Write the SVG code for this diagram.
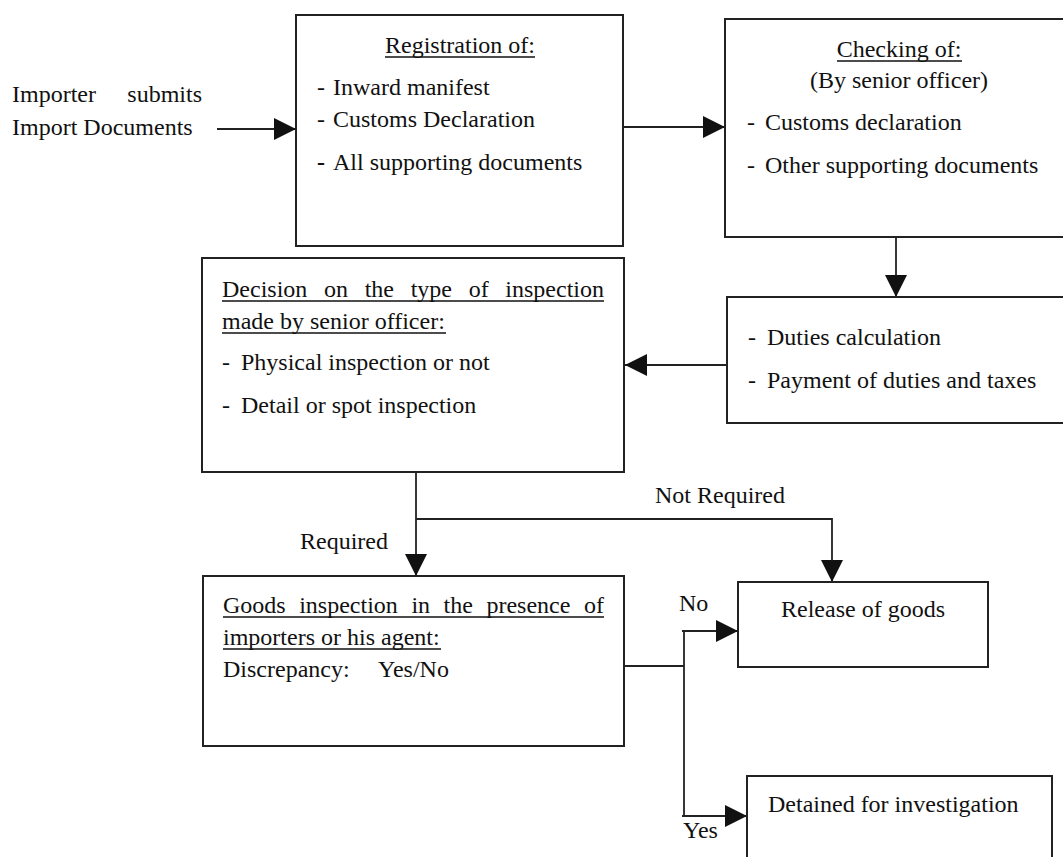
<svg xmlns="http://www.w3.org/2000/svg" width="1063" height="857" viewBox="0 0 1063 857">
<style>
text { font-family: "Liberation Serif", "Times New Roman", serif; font-size: 24px; fill: #111; }
.box { fill: #fff; stroke: #222; stroke-width: 2; }
.ln { fill: none; stroke: #222; stroke-width: 1.8; }
.ul { stroke: #111; stroke-width: 1.5; }
.c { text-anchor: middle; }
.e { text-anchor: end; }
</style>
<defs>
<marker id="arr" markerUnits="userSpaceOnUse" markerWidth="22" markerHeight="22" viewBox="0 0 20 20" refX="20" refY="10" orient="auto">
<path d="M0,0 L20,10 L0,20 Z" fill="#111"/>
</marker>
</defs>
<rect width="1063" height="857" fill="#fff"/>

<g id="importer">
<text x="12" y="102">Importer</text>
<text x="202" y="102" class="e">submits</text>
<text x="12" y="135">Import Documents</text>
</g>

<g id="registration">
<rect class="box" x="296" y="15" width="327" height="231"/>
<text x="460" y="53" class="c">Registration of:</text>
<line class="ul" x1="385" y1="57" x2="535" y2="57"/>
<text x="317" y="95">-</text><text x="333" y="95">Inward manifest</text>
<text x="317" y="127">-</text><text x="333" y="127">Customs Declaration</text>
<text x="317" y="170" font-weight="bold">-</text><text x="333" y="170">All supporting documents</text>
</g>

<g id="checking">
<rect class="box" x="725" y="19" width="345" height="218"/>
<text x="899" y="57" class="c">Checking of:</text>
<line class="ul" x1="837" y1="61" x2="962" y2="61"/>
<text x="899" y="88" class="c">(By senior officer)</text>
<text x="747" y="130">-</text><text x="765" y="130">Customs declaration</text>
<text x="747" y="173">-</text><text x="765" y="173">Other supporting documents</text>
</g>

<g id="duties">
<rect class="box" x="727" y="297" width="345" height="126"/>
<text x="748" y="345">-</text><text x="767" y="345">Duties calculation</text>
<text x="748" y="388">-</text><text x="767" y="388">Payment of duties and taxes</text>
</g>

<g id="decision">
<rect class="box" x="202" y="258" width="422" height="214"/>
<text x="222" y="297">Decision</text>
<text x="324" y="297">on</text>
<text x="364.7" y="297">the</text>
<text x="410.7" y="297">type</text>
<text x="468.7" y="297">of</text>
<text x="604" y="297" class="e">inspection</text>
<line class="ul" x1="222" y1="301" x2="604" y2="301"/>
<text x="222" y="329">made by senior officer:</text>
<line class="ul" x1="222" y1="333" x2="446" y2="333"/>
<text x="222" y="370">-</text><text x="241" y="370">Physical inspection or not</text>
<text x="222" y="413">-</text><text x="241" y="413">Detail or spot inspection</text>
</g>

<g id="goods">
<rect class="box" x="203" y="576" width="421" height="170"/>
<text x="223" y="613">Goods</text>
<text x="299.2" y="613">inspection</text>
<text x="411.4" y="613">in</text>
<text x="443.6" y="613">the</text>
<text x="486.4" y="613">presence</text>
<text x="604" y="613" class="e">of</text>
<line class="ul" x1="223" y1="617" x2="604" y2="617"/>
<text x="223" y="645">importers or his agent:</text>
<line class="ul" x1="223" y1="649" x2="441" y2="649"/>
<text x="223" y="677">Discrepancy:</text>
<text x="378" y="677">Yes/No</text>
</g>

<g id="release">
<rect class="box" x="738" y="582" width="250" height="85"/>
<text x="863" y="617" class="c">Release of goods</text>
</g>

<g id="detained">
<rect class="box" x="747" y="776" width="305" height="90"/>
<text x="768" y="812">Detained for investigation</text>
</g>

<g id="connectors">
<line class="ln" x1="217" y1="129" x2="296" y2="129" marker-end="url(#arr)"/>
<line class="ln" x1="623" y1="127" x2="725" y2="127" marker-end="url(#arr)"/>
<line class="ln" x1="896" y1="237" x2="896" y2="297" marker-end="url(#arr)"/>
<line class="ln" x1="727" y1="365" x2="625" y2="365" marker-end="url(#arr)"/>
<line class="ln" x1="416" y1="472" x2="416" y2="576" marker-end="url(#arr)"/>
<polyline class="ln" points="416,519 832,519 832,582" marker-end="url(#arr)"/>
<line class="ln" x1="624" y1="666" x2="684" y2="666"/>
<line class="ln" x1="684" y1="631" x2="684" y2="816"/>
<line class="ln" x1="682" y1="631" x2="738" y2="631" marker-end="url(#arr)"/>
<line class="ln" x1="682" y1="816" x2="747" y2="816" marker-end="url(#arr)"/>
<text x="720" y="503" class="c">Not Required</text>
<text x="300" y="549">Required</text>
<text x="679" y="611">No</text>
<text x="683" y="838">Yes</text>
</g>
</svg>
